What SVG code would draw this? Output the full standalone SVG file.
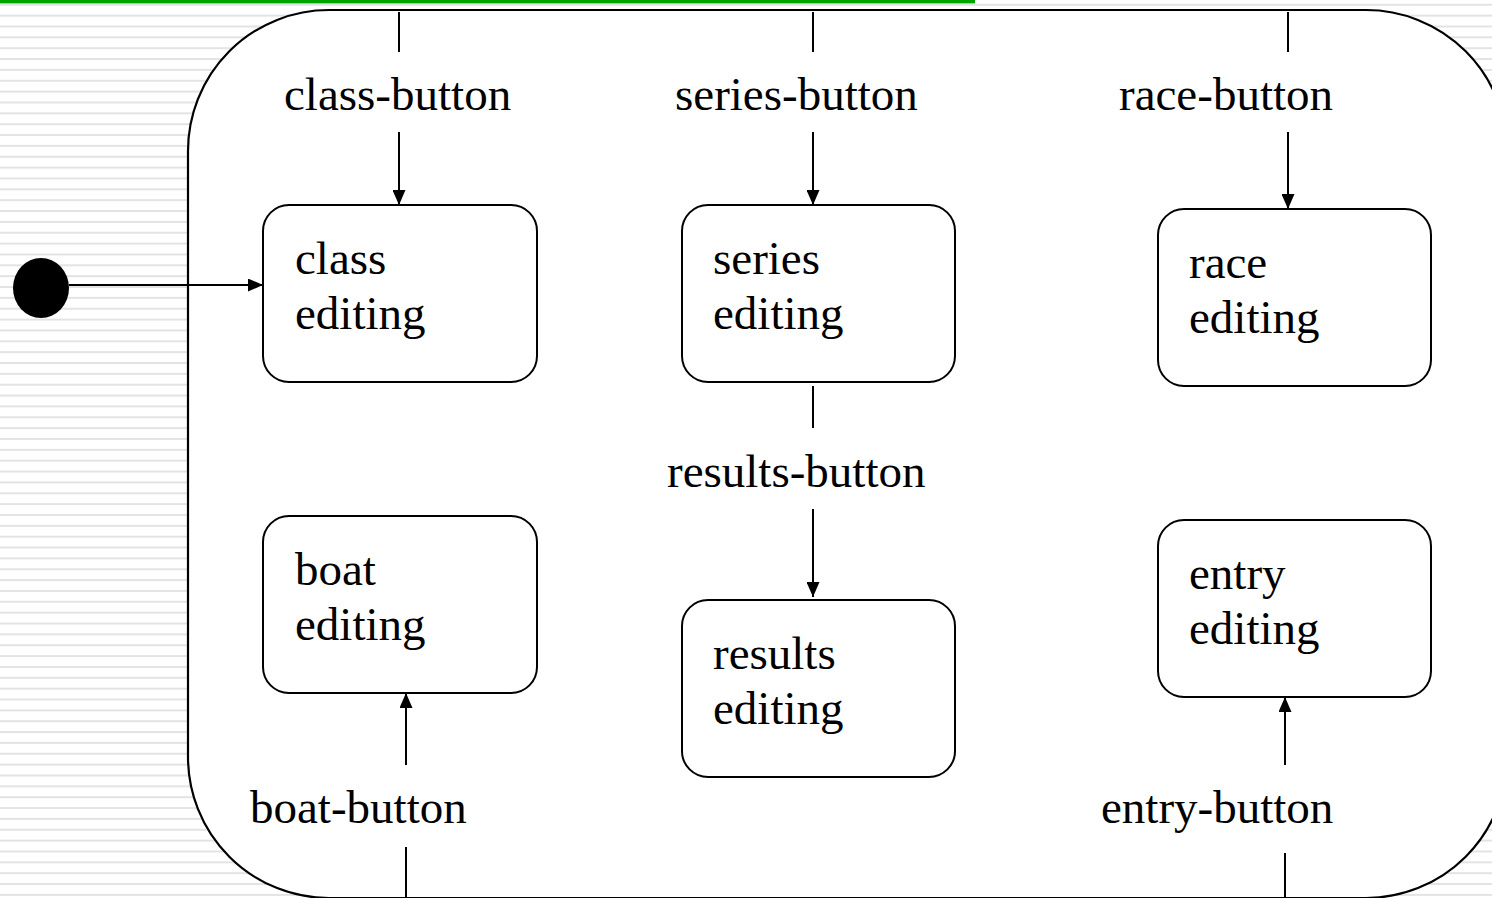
<svg xmlns="http://www.w3.org/2000/svg" width="1492" height="898" viewBox="0 0 1492 898">
  <style>
    .bg { fill: #ffffff; }
    .state { fill: #ffffff; stroke: #000000; stroke-width: 2; }
    .frame { fill: #ffffff; stroke: #000000; stroke-width: 2.2; }
    .edge { stroke: #000000; stroke-width: 2; fill: none; }
    .lbl { font-family: "Liberation Serif", "Times New Roman", serif; font-size: 47px; fill: #000000; }
  </style>
  <defs>
    <pattern id="stripes" patternUnits="userSpaceOnUse" x="0" y="3.8" width="20" height="10.855">
      <rect x="0" y="0" width="20" height="2" fill="#e3e3e3"/>
    </pattern>
    <marker id="arrow" markerUnits="userSpaceOnUse" markerWidth="15" markerHeight="13" refX="15" refY="6.5" orient="auto">
      <path d="M0,0 L15,6.5 L0,13 Z" fill="#000000"/>
    </marker>
  </defs>

  <!-- background -->
  <rect class="bg" x="0" y="0" width="1492" height="898"/>
  <rect x="0" y="0" width="1492" height="898" fill="url(#stripes)"/>
  <rect x="0" y="0" width="975" height="3.4" fill="#00a400"/>

  <!-- outer composite state -->
  <g id="editing-frame">
    <rect class="frame" x="188" y="10" width="1319" height="888" rx="141" ry="141"/>
  </g>

  <!-- initial pseudo-state -->
  <g id="initial">
    <ellipse cx="41" cy="288" rx="28" ry="30" fill="#000000"/>
  </g>

  <!-- states -->
  <g id="class-editing">
    <rect class="state" x="263" y="205" width="274" height="177" rx="26" ry="26"/>
    <text class="lbl" x="295" y="274">class</text>
    <text class="lbl" x="295" y="329">editing</text>
  </g>
  <g id="series-editing">
    <rect class="state" x="682" y="205" width="273" height="177" rx="26" ry="26"/>
    <text class="lbl" x="713" y="274">series</text>
    <text class="lbl" x="713" y="329">editing</text>
  </g>
  <g id="race-editing">
    <rect class="state" x="1158" y="209" width="273" height="177" rx="26" ry="26"/>
    <text class="lbl" x="1189" y="278">race</text>
    <text class="lbl" x="1189" y="333">editing</text>
  </g>
  <g id="boat-editing">
    <rect class="state" x="263" y="516" width="274" height="177" rx="26" ry="26"/>
    <text class="lbl" x="295" y="585">boat</text>
    <text class="lbl" x="295" y="640">editing</text>
  </g>
  <g id="results-editing">
    <rect class="state" x="682" y="600" width="273" height="177" rx="26" ry="26"/>
    <text class="lbl" x="713" y="669">results</text>
    <text class="lbl" x="713" y="724">editing</text>
  </g>
  <g id="entry-editing">
    <rect class="state" x="1158" y="520" width="273" height="177" rx="26" ry="26"/>
    <text class="lbl" x="1189" y="589">entry</text>
    <text class="lbl" x="1189" y="644">editing</text>
  </g>

  <!-- connectors -->
  <g id="connectors">
    <line class="edge" x1="69" y1="285" x2="263" y2="285" marker-end="url(#arrow)"/>

    <line class="edge" x1="399" y1="12" x2="399" y2="52"/>
    <line class="edge" x1="399" y1="132" x2="399" y2="205" marker-end="url(#arrow)"/>
    <text class="lbl" x="284" y="110">class-button</text>

    <line class="edge" x1="813" y1="12" x2="813" y2="52"/>
    <line class="edge" x1="813" y1="132" x2="813" y2="205" marker-end="url(#arrow)"/>
    <text class="lbl" x="675" y="110">series-button</text>

    <line class="edge" x1="1288" y1="12" x2="1288" y2="52"/>
    <line class="edge" x1="1288" y1="132" x2="1288" y2="209" marker-end="url(#arrow)"/>
    <text class="lbl" x="1119" y="110">race-button</text>

    <line class="edge" x1="813" y1="386" x2="813" y2="428"/>
    <line class="edge" x1="813" y1="509" x2="813" y2="597" marker-end="url(#arrow)"/>
    <text class="lbl" x="667" y="487">results-button</text>

    <line class="edge" x1="406" y1="898" x2="406" y2="847"/>
    <line class="edge" x1="406" y1="765" x2="406" y2="693" marker-end="url(#arrow)"/>
    <text class="lbl" x="250" y="823">boat-button</text>

    <line class="edge" x1="1285" y1="898" x2="1285" y2="853"/>
    <line class="edge" x1="1285" y1="765" x2="1285" y2="697" marker-end="url(#arrow)"/>
    <text class="lbl" x="1101" y="823">entry-button</text>
  </g>
</svg>
